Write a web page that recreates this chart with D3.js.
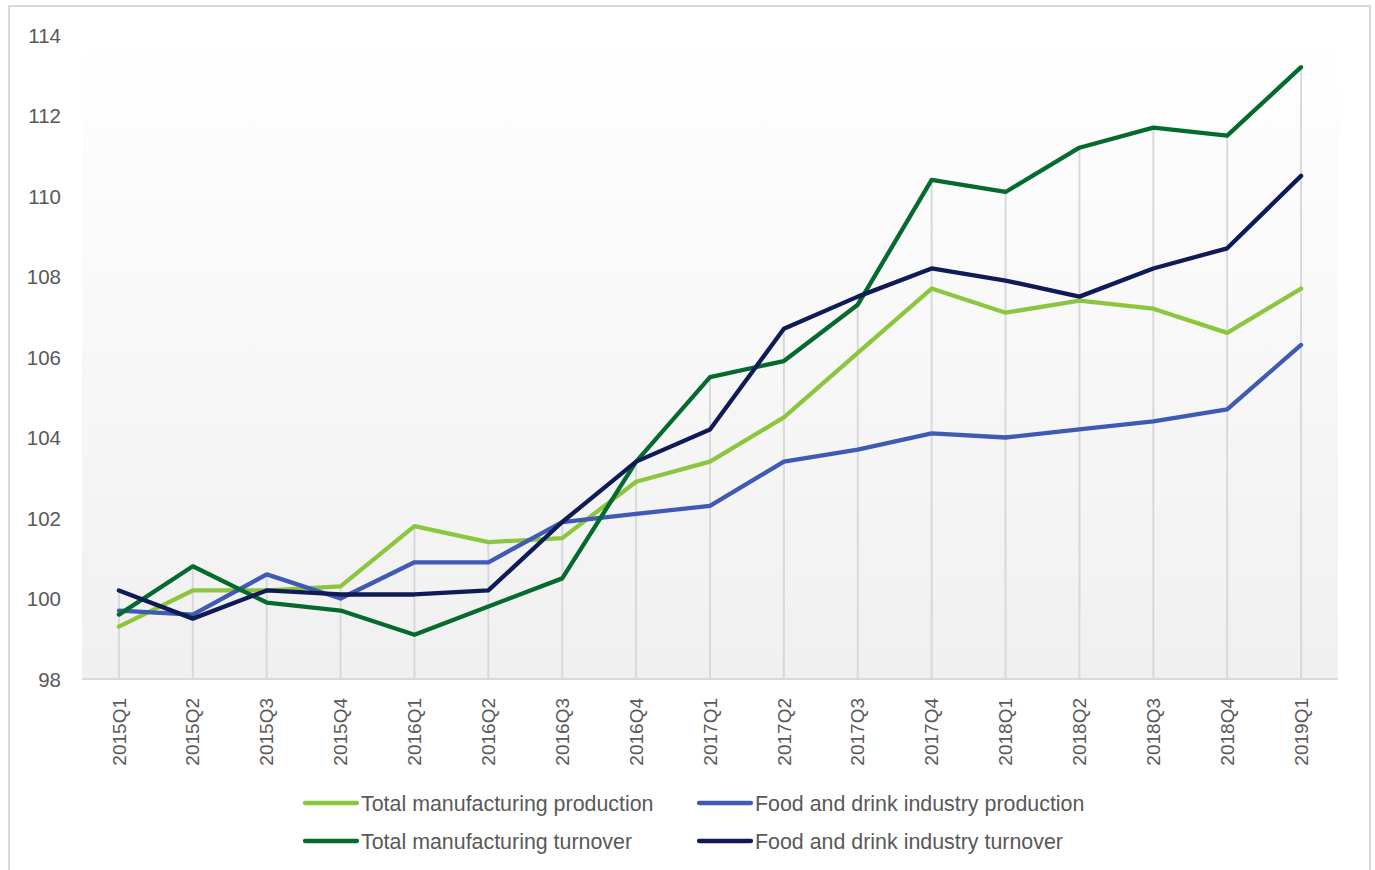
<!DOCTYPE html>
<html><head><meta charset="utf-8">
<script src="https://cdn.jsdelivr.net/npm/d3@7"></script>
<style>
html,body{margin:0;padding:0;background:#fff;}
svg{display:block;font-family:"Liberation Sans",Arial,sans-serif;}
</style></head>
<body><svg id="chart" width="1375" height="870"></svg>
<script>
const categories = ["2015Q1","2015Q2","2015Q3","2015Q4","2016Q1","2016Q2","2016Q3","2016Q4","2017Q1","2017Q2","2017Q3","2017Q4","2018Q1","2018Q2","2018Q3","2018Q4","2019Q1"];
const totalProduction = [99.3,100.2,100.2,100.3,101.8,101.4,101.5,102.9,103.4,104.5,106.1,107.7,107.1,107.4,107.2,106.6,107.7];
const foodProduction  = [99.7,99.6,100.6,100.0,100.9,100.9,101.9,102.1,102.3,103.4,103.7,104.1,104.0,104.2,104.4,104.7,106.3];
const totalTurnover   = [99.6,100.8,99.9,99.7,99.1,99.8,100.5,103.4,105.5,105.9,107.3,110.4,110.1,111.2,111.7,111.5,113.2];
const foodTurnover    = [100.2,99.5,100.2,100.1,100.1,100.2,101.9,103.4,104.2,106.7,107.5,108.2,107.9,107.5,108.2,108.7,110.5];
const yTicks = [98,100,102,104,106,108,110,112,114];
const seriesNames = ["Total manufacturing production","Food and drink industry production","Total manufacturing turnover","Food and drink industry turnover"];
const seriesColors = ["#8cc63f","#3f5ab4","#046a2e","#101a56"];
const seriesValues = [totalProduction, foodProduction, totalTurnover, foodTurnover];

const svg = d3.select("#chart");
const plot = {left: 82, right: 1338, top: 35, bottom: 679};

// outer frame
svg.append("rect").attr("x",9).attr("y",6).attr("width",1361).attr("height",880)
  .attr("fill","#fff").attr("stroke","#d9d9d9").attr("stroke-width",2);

const defs = svg.append("defs");
const grad = defs.append("linearGradient").attr("id","bg").attr("x1",0).attr("y1",0).attr("x2",0).attr("y2",1);
grad.append("stop").attr("offset","0%").attr("stop-color","#ffffff");
grad.append("stop").attr("offset","100%").attr("stop-color","#f0f0f0");

const x = d3.scaleBand().domain(categories).range([plot.left, plot.right]).padding(0);
const y = d3.scaleLinear().domain([98,114]).range([plot.bottom, plot.top]);
const cx = c => x(c) + x.bandwidth()/2;

svg.append("rect").attr("x",plot.left).attr("y",plot.top)
  .attr("width",plot.right-plot.left).attr("height",plot.bottom-plot.top)
  .attr("fill","url(#bg)");

// drop lines from highest value to axis
const maxVals = categories.map((c,i)=>d3.max(seriesValues,s=>s[i]));
svg.append("g").selectAll("line").data(categories).join("line")
  .attr("x1",d=>cx(d)).attr("x2",d=>cx(d))
  .attr("y1",(d,i)=>y(maxVals[i])).attr("y2",plot.bottom)
  .attr("stroke","#d9d9d9").attr("stroke-width",2);

// x axis
const xAxis = svg.append("g").attr("transform",`translate(0,${plot.bottom})`)
  .call(d3.axisBottom(x).tickSize(0).tickPadding(0));
xAxis.select(".domain").attr("stroke","#d9d9d9").attr("stroke-width",2)
  .attr("d",`M${plot.left},0H${plot.right}`);
xAxis.selectAll(".tick text")
  .attr("transform","rotate(-90)")
  .attr("x",-19).attr("y",0).attr("dy","0.35em")
  .attr("text-anchor","end")
  .attr("fill","#595959").attr("font-size","19px");

// y axis
const yAxis = svg.append("g").attr("transform",`translate(${plot.left},0)`)
  .call(d3.axisLeft(y).tickValues(yTicks).tickSize(0).tickPadding(21).tickFormat(d3.format("d")));
yAxis.select(".domain").remove();
yAxis.selectAll(".tick text").attr("fill","#595959").attr("font-size","20.5px").attr("dy","0.35em");

// lines
const line = d3.line().x((d,i)=>cx(categories[i])).y(d=>y(d));
svg.append("g").selectAll("path").data(seriesValues).join("path")
  .attr("d",d=>line(d)).attr("fill","none")
  .attr("stroke",(d,i)=>seriesColors[i]).attr("stroke-width",4.3)
  .attr("stroke-linejoin","round").attr("stroke-linecap","round");

// legend
const legendPos = [[303,803],[697,803],[303,841],[697,841]];
const lg = svg.append("g").selectAll("g").data(seriesNames).join("g")
  .attr("transform",(d,i)=>`translate(${legendPos[i][0]},${legendPos[i][1]})`);
lg.append("line").attr("x1",2).attr("x2",54).attr("y1",0).attr("y2",0)
  .attr("stroke",(d,i)=>seriesColors[i]).attr("stroke-width",4.3).attr("stroke-linecap","round");
lg.append("text").attr("x",58).attr("y",0).attr("dy","0.35em")
  .attr("fill","#595959").attr("font-size","21.4px").text(d=>d);
</script></body></html>
